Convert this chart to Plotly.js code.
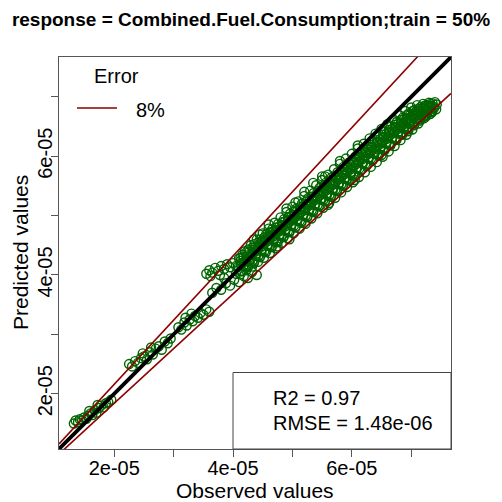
<!DOCTYPE html>
<html>
<head>
<meta charset="utf-8">
<script src="https://cdn.plot.ly/plotly-3.0.1.min.js"></script>
<style>html,body{margin:0;padding:0;background:#fff;}#chart{width:502px;height:502px;}</style>
</head>
<body>
<div id="chart"></div>
<script>
// ---- data ----
const observed = [
  1.32e-5,1.35e-5,1.39e-5,1.42e-5,1.46e-5,1.49e-5,1.53e-5,1.56e-5,1.60e-5,1.63e-5,1.67e-5,1.70e-5,1.74e-5,1.78e-5,1.82e-5,1.86e-5,1.90e-5,1.95e-5,1.72e-5,1.58e-5,
  2.25e-5,2.30e-5,2.35e-5,2.40e-5,2.45e-5,2.50e-5,2.55e-5,2.60e-5,2.65e-5,2.70e-5,2.75e-5,2.80e-5,2.85e-5,2.90e-5,2.95e-5,2.62e-5,2.48e-5,
  3.08e-5,3.13e-5,3.18e-5,3.22e-5,3.27e-5,3.32e-5,3.36e-5,3.41e-5,3.45e-5,3.50e-5,3.55e-5,3.60e-5,3.30e-5,3.20e-5,
  3.65e-5,3.72e-5,3.80e-5,3.88e-5,3.95e-5,4.02e-5,4.10e-5,4.18e-5,4.25e-5,4.32e-5,4.40e-5,3.85e-5,4.05e-5,
  3.55e-5,3.60e-5,3.65e-5,3.70e-5,3.75e-5,3.80e-5,3.85e-5,3.90e-5,3.95e-5,4.00e-5,4.05e-5,3.62e-5,3.78e-5,
  4.10e-5,4.13e-5,4.08e-5,4.15e-5,4.12e-5,
  4.20e-5,4.23e-5,4.18e-5,4.25e-5,4.22e-5,
  4.30e-5,4.33e-5,4.28e-5,4.35e-5,4.32e-5,
  4.40e-5,4.43e-5,4.38e-5,4.45e-5,4.42e-5,
  4.50e-5,4.53e-5,4.48e-5,4.55e-5,4.52e-5,
  4.60e-5,4.63e-5,4.58e-5,4.65e-5,4.62e-5,
  4.70e-5,4.73e-5,4.68e-5,4.75e-5,4.72e-5,
  4.80e-5,4.83e-5,4.78e-5,4.85e-5,4.82e-5,
  4.90e-5,4.93e-5,4.88e-5,4.95e-5,4.92e-5,
  5.00e-5,5.03e-5,4.98e-5,5.05e-5,5.02e-5,
  5.10e-5,5.13e-5,5.08e-5,5.15e-5,5.12e-5,
  5.20e-5,5.23e-5,5.18e-5,5.25e-5,5.22e-5,
  5.30e-5,5.33e-5,5.28e-5,5.35e-5,5.32e-5,
  5.40e-5,5.43e-5,5.38e-5,5.45e-5,5.42e-5,
  5.50e-5,5.53e-5,5.48e-5,5.55e-5,5.52e-5,
  5.60e-5,5.63e-5,5.58e-5,5.65e-5,5.62e-5,
  5.70e-5,5.73e-5,5.68e-5,5.75e-5,5.72e-5,
  5.80e-5,5.83e-5,5.78e-5,5.85e-5,5.82e-5,
  5.90e-5,5.93e-5,5.88e-5,5.95e-5,5.92e-5,
  6.00e-5,6.03e-5,5.98e-5,6.05e-5,6.02e-5,
  6.10e-5,6.13e-5,6.08e-5,6.15e-5,6.12e-5,
  6.20e-5,6.23e-5,6.18e-5,6.25e-5,6.22e-5,
  6.30e-5,6.33e-5,6.28e-5,6.35e-5,6.32e-5,
  6.40e-5,6.43e-5,6.38e-5,6.45e-5,6.42e-5,
  6.50e-5,6.53e-5,6.48e-5,6.55e-5,6.52e-5,
  6.60e-5,6.63e-5,6.58e-5,6.65e-5,6.62e-5,
  6.70e-5,6.73e-5,6.68e-5,6.75e-5,6.72e-5,
  6.80e-5,6.83e-5,6.78e-5,6.85e-5,6.82e-5,
  6.90e-5,6.93e-5,6.88e-5,6.95e-5,6.92e-5,
  7.00e-5,7.03e-5,6.98e-5,7.05e-5,7.02e-5,
  7.10e-5,7.13e-5,7.08e-5,7.15e-5,7.12e-5,
  7.20e-5,7.23e-5,7.18e-5,7.25e-5,7.22e-5,
  7.30e-5,7.33e-5,7.28e-5,7.35e-5,7.32e-5,
  7.40e-5,7.43e-5,7.38e-5,7.42e-5,
  4.16e-5,4.13e-5,4.18e-5,4.15e-5,
  4.26e-5,4.23e-5,4.28e-5,4.25e-5,
  4.36e-5,4.33e-5,4.38e-5,4.35e-5,
  4.46e-5,4.43e-5,4.48e-5,4.45e-5,
  4.56e-5,4.53e-5,4.58e-5,4.55e-5,
  4.66e-5,4.63e-5,4.68e-5,4.65e-5,
  4.76e-5,4.73e-5,4.78e-5,4.75e-5,
  4.86e-5,4.83e-5,4.88e-5,4.85e-5,
  4.96e-5,4.93e-5,4.98e-5,4.95e-5,
  5.06e-5,5.03e-5,5.08e-5,5.05e-5,
  5.16e-5,5.13e-5,5.18e-5,5.15e-5,
  5.26e-5,5.23e-5,5.28e-5,5.25e-5,
  5.36e-5,5.33e-5,5.38e-5,5.35e-5,
  5.46e-5,5.43e-5,5.48e-5,5.45e-5,
  5.56e-5,5.53e-5,5.58e-5,5.55e-5,
  5.66e-5,5.63e-5,5.68e-5,5.65e-5,
  5.76e-5,5.73e-5,5.78e-5,5.75e-5,
  5.86e-5,5.83e-5,5.88e-5,5.85e-5,
  5.96e-5,5.93e-5,5.98e-5,5.95e-5,
  6.06e-5,6.03e-5,6.08e-5,6.05e-5,
  6.16e-5,6.13e-5,6.18e-5,6.15e-5,
  6.26e-5,6.23e-5,6.28e-5,6.25e-5,
  6.36e-5,6.33e-5,6.38e-5,6.35e-5,
  6.46e-5,6.43e-5,6.48e-5,6.45e-5,
  6.56e-5,6.53e-5,6.58e-5,6.55e-5,
  6.66e-5,6.63e-5,6.68e-5,6.65e-5,
  6.76e-5,6.73e-5,6.78e-5,6.75e-5,
  6.86e-5,6.83e-5,6.88e-5,6.85e-5,
  6.96e-5,6.93e-5,6.98e-5,6.95e-5,
  7.06e-5,7.03e-5,7.08e-5,7.05e-5,
  7.16e-5,7.13e-5,7.18e-5,7.15e-5,
  7.26e-5,7.23e-5,7.28e-5,7.25e-5,
  7.36e-5,7.33e-5,7.38e-5,7.35e-5,
  4.45e-5,5.05e-5,5.55e-5,5.60e-5,6.05e-5,6.50e-5,6.95e-5,7.20e-5,4.75e-5,4.95e-5,
  4.60e-5,4.90e-5,5.20e-5,5.50e-5,5.80e-5,6.10e-5,4.35e-5,5.35e-5,
  4.125e-5,4.125e-5,4.125e-5, 4.225e-5,4.225e-5,4.225e-5, 4.325e-5,4.325e-5,4.325e-5, 4.425e-5,4.425e-5,4.425e-5,
  4.525e-5,4.525e-5,4.525e-5, 4.625e-5,4.625e-5,4.625e-5, 4.725e-5,4.725e-5,4.725e-5, 4.825e-5,4.825e-5,4.825e-5,
  4.925e-5,4.925e-5,4.925e-5, 5.025e-5,5.025e-5,5.025e-5, 5.125e-5,5.125e-5,5.125e-5, 5.225e-5,5.225e-5,5.225e-5,
  5.325e-5,5.325e-5,5.325e-5, 5.425e-5,5.425e-5,5.425e-5, 5.525e-5,5.525e-5,5.525e-5, 5.625e-5,5.625e-5,5.625e-5,
  5.725e-5,5.725e-5,5.725e-5, 5.825e-5,5.825e-5,5.825e-5, 5.925e-5,5.925e-5,5.925e-5, 6.025e-5,6.025e-5,6.025e-5,
  6.125e-5,6.125e-5,6.125e-5, 6.225e-5,6.225e-5,6.225e-5, 6.325e-5,6.325e-5,6.325e-5, 6.425e-5,6.425e-5,6.425e-5,
  6.525e-5,6.525e-5,6.525e-5, 6.625e-5,6.625e-5,6.625e-5, 6.725e-5,6.725e-5,6.725e-5, 6.825e-5,6.825e-5,6.825e-5,
  6.925e-5,6.925e-5,6.925e-5, 7.025e-5,7.025e-5,7.025e-5, 7.125e-5,7.125e-5,7.125e-5, 7.225e-5,7.225e-5,7.225e-5,
  7.325e-5,7.325e-5,7.325e-5,
  4.175e-5,4.175e-5, 4.275e-5,4.275e-5, 4.375e-5,4.375e-5, 4.475e-5,4.475e-5, 4.575e-5,4.575e-5, 4.675e-5,4.675e-5,
  4.775e-5,4.775e-5, 4.875e-5,4.875e-5, 4.975e-5,4.975e-5, 5.075e-5,5.075e-5, 5.175e-5,5.175e-5, 5.275e-5,5.275e-5,
  5.375e-5,5.375e-5, 5.475e-5,5.475e-5, 5.575e-5,5.575e-5, 5.675e-5,5.675e-5, 5.775e-5,5.775e-5, 5.875e-5,5.875e-5,
  5.975e-5,5.975e-5, 6.075e-5,6.075e-5, 6.175e-5,6.175e-5, 6.275e-5,6.275e-5, 6.375e-5,6.375e-5, 6.475e-5,6.475e-5,
  6.575e-5,6.575e-5, 6.675e-5,6.675e-5, 6.775e-5,6.775e-5, 6.875e-5,6.875e-5, 6.975e-5,6.975e-5, 7.075e-5,7.075e-5,
  7.175e-5,7.175e-5, 7.275e-5,7.275e-5
];
const predicted = [
  1.50e-5,1.55e-5,1.52e-5,1.57e-5,1.55e-5,1.60e-5,1.58e-5,1.63e-5,1.67e-5,1.64e-5,1.72e-5,1.68e-5,1.76e-5,1.80e-5,1.77e-5,1.84e-5,1.86e-5,1.90e-5,1.81e-5,1.71e-5,
  2.50e-5,2.46e-5,2.55e-5,2.52e-5,2.60e-5,2.63e-5,2.58e-5,2.70e-5,2.66e-5,2.76e-5,2.80e-5,2.74e-5,2.88e-5,2.85e-5,2.93e-5,2.78e-5,2.68e-5,
  3.12e-5,3.08e-5,3.20e-5,3.15e-5,3.25e-5,3.22e-5,3.31e-5,3.28e-5,3.36e-5,3.33e-5,3.42e-5,3.38e-5,3.35e-5,3.28e-5,
  3.70e-5,3.78e-5,3.75e-5,3.86e-5,3.82e-5,3.92e-5,3.88e-5,3.98e-5,3.95e-5,4.05e-5,4.00e-5,3.95e-5,4.02e-5,
  4.02e-5,4.08e-5,4.04e-5,4.12e-5,4.07e-5,4.15e-5,4.10e-5,4.18e-5,4.13e-5,4.20e-5,4.15e-5,3.98e-5,4.00e-5,
  4.28e-5,4.20e-5,4.14e-5,4.06e-5,4.01e-5,
  4.40e-5,4.30e-5,4.22e-5,4.14e-5,4.08e-5,
  4.50e-5,4.38e-5,4.30e-5,4.20e-5,4.14e-5,
  4.60e-5,4.47e-5,4.40e-5,4.30e-5,4.22e-5,
  4.70e-5,4.57e-5,4.48e-5,4.38e-5,4.29e-5,
  4.78e-5,4.66e-5,4.57e-5,4.47e-5,4.37e-5,
  4.88e-5,4.74e-5,4.65e-5,4.55e-5,4.45e-5,
  4.97e-5,4.83e-5,4.74e-5,4.64e-5,4.54e-5,
  5.06e-5,4.92e-5,4.82e-5,4.72e-5,4.62e-5,
  5.15e-5,5.01e-5,4.91e-5,4.80e-5,4.70e-5,
  5.24e-5,5.10e-5,4.99e-5,4.88e-5,4.78e-5,
  5.33e-5,5.19e-5,5.08e-5,4.97e-5,4.86e-5,
  5.42e-5,5.28e-5,5.17e-5,5.06e-5,4.95e-5,
  5.51e-5,5.37e-5,5.26e-5,5.15e-5,5.04e-5,
  5.60e-5,5.46e-5,5.35e-5,5.24e-5,5.13e-5,
  5.69e-5,5.54e-5,5.43e-5,5.32e-5,5.21e-5,
  5.78e-5,5.63e-5,5.52e-5,5.41e-5,5.30e-5,
  5.87e-5,5.72e-5,5.61e-5,5.50e-5,5.39e-5,
  5.96e-5,5.81e-5,5.70e-5,5.59e-5,5.48e-5,
  6.04e-5,5.89e-5,5.78e-5,5.67e-5,5.56e-5,
  6.13e-5,5.98e-5,5.87e-5,5.76e-5,5.65e-5,
  6.21e-5,6.06e-5,5.95e-5,5.84e-5,5.73e-5,
  6.30e-5,6.15e-5,6.04e-5,5.93e-5,5.82e-5,
  6.38e-5,6.23e-5,6.12e-5,6.01e-5,5.90e-5,
  6.46e-5,6.32e-5,6.21e-5,6.10e-5,5.99e-5,
  6.54e-5,6.40e-5,6.29e-5,6.18e-5,6.08e-5,
  6.62e-5,6.49e-5,6.38e-5,6.27e-5,6.17e-5,
  6.69e-5,6.57e-5,6.46e-5,6.36e-5,6.27e-5,
  6.76e-5,6.64e-5,6.54e-5,6.45e-5,6.36e-5,
  6.82e-5,6.71e-5,6.61e-5,6.52e-5,6.45e-5,
  6.86e-5,6.77e-5,6.68e-5,6.60e-5,6.55e-5,
  6.88e-5,6.81e-5,6.73e-5,6.67e-5,6.64e-5,
  6.90e-5,6.84e-5,6.78e-5,6.74e-5,6.71e-5,
  6.91e-5,6.87e-5,6.83e-5,6.79e-5,
  4.34e-5,4.24e-5,4.15e-5,4.07e-5,
  4.43e-5,4.33e-5,4.23e-5,4.13e-5,
  4.52e-5,4.42e-5,4.32e-5,4.22e-5,
  4.60e-5,4.50e-5,4.40e-5,4.30e-5,
  4.69e-5,4.59e-5,4.49e-5,4.39e-5,
  4.77e-5,4.67e-5,4.57e-5,4.47e-5,
  4.86e-5,4.76e-5,4.66e-5,4.56e-5,
  4.94e-5,4.84e-5,4.74e-5,4.64e-5,
  5.03e-5,4.93e-5,4.83e-5,4.73e-5,
  5.11e-5,5.01e-5,4.91e-5,4.81e-5,
  5.20e-5,5.10e-5,5.00e-5,4.90e-5,
  5.29e-5,5.19e-5,5.09e-5,4.99e-5,
  5.38e-5,5.28e-5,5.18e-5,5.08e-5,
  5.47e-5,5.37e-5,5.27e-5,5.17e-5,
  5.55e-5,5.45e-5,5.35e-5,5.25e-5,
  5.64e-5,5.54e-5,5.44e-5,5.34e-5,
  5.73e-5,5.63e-5,5.53e-5,5.43e-5,
  5.82e-5,5.72e-5,5.62e-5,5.52e-5,
  5.90e-5,5.80e-5,5.70e-5,5.60e-5,
  5.99e-5,5.89e-5,5.79e-5,5.69e-5,
  6.07e-5,5.97e-5,5.87e-5,5.77e-5,
  6.16e-5,6.06e-5,5.96e-5,5.86e-5,
  6.24e-5,6.14e-5,6.04e-5,5.94e-5,
  6.33e-5,6.23e-5,6.13e-5,6.03e-5,
  6.41e-5,6.31e-5,6.21e-5,6.11e-5,
  6.50e-5,6.40e-5,6.30e-5,6.20e-5,
  6.58e-5,6.48e-5,6.38e-5,6.29e-5,
  6.65e-5,6.56e-5,6.46e-5,6.38e-5,
  6.72e-5,6.63e-5,6.54e-5,6.47e-5,
  6.78e-5,6.70e-5,6.62e-5,6.56e-5,
  6.83e-5,6.76e-5,6.69e-5,6.63e-5,
  6.86e-5,6.80e-5,6.75e-5,6.70e-5,
  6.89e-5,6.85e-5,6.80e-5,6.76e-5,
  4.68e-5,5.22e-5,5.66e-5,5.18e-5,5.60e-5,6.02e-5,6.42e-5,6.66e-5,4.48e-5,4.60e-5,
  4.85e-5,5.12e-5,5.40e-5,5.66e-5,5.92e-5,6.18e-5,4.60e-5,5.55e-5,
  4.29e-5,4.18e-5,4.06e-5, 4.38e-5,4.27e-5,4.15e-5, 4.46e-5,4.35e-5,4.23e-5, 4.55e-5,4.44e-5,4.32e-5,
  4.63e-5,4.52e-5,4.40e-5, 4.72e-5,4.61e-5,4.49e-5, 4.80e-5,4.69e-5,4.57e-5, 4.89e-5,4.78e-5,4.66e-5,
  4.97e-5,4.86e-5,4.74e-5, 5.06e-5,4.95e-5,4.83e-5, 5.14e-5,5.03e-5,4.91e-5, 5.23e-5,5.12e-5,5.00e-5,
  5.32e-5,5.21e-5,5.09e-5, 5.41e-5,5.30e-5,5.18e-5, 5.50e-5,5.39e-5,5.27e-5, 5.58e-5,5.47e-5,5.35e-5,
  5.67e-5,5.56e-5,5.44e-5, 5.76e-5,5.65e-5,5.53e-5, 5.85e-5,5.74e-5,5.62e-5, 5.93e-5,5.82e-5,5.70e-5,
  6.02e-5,5.91e-5,5.79e-5, 6.10e-5,5.99e-5,5.87e-5, 6.19e-5,6.08e-5,5.96e-5, 6.27e-5,6.16e-5,6.04e-5,
  6.36e-5,6.25e-5,6.13e-5, 6.44e-5,6.33e-5,6.21e-5, 6.53e-5,6.42e-5,6.30e-5, 6.61e-5,6.50e-5,6.38e-5,
  6.69e-5,6.58e-5,6.46e-5, 6.76e-5,6.65e-5,6.53e-5, 6.80e-5,6.72e-5,6.62e-5, 6.85e-5,6.77e-5,6.68e-5,
  6.88e-5,6.82e-5,6.75e-5,
  4.30e-5,4.16e-5, 4.39e-5,4.25e-5, 4.47e-5,4.33e-5, 4.56e-5,4.42e-5, 4.64e-5,4.50e-5, 4.73e-5,4.59e-5,
  4.81e-5,4.67e-5, 4.90e-5,4.76e-5, 4.98e-5,4.84e-5, 5.07e-5,4.93e-5, 5.15e-5,5.01e-5, 5.24e-5,5.10e-5,
  5.33e-5,5.19e-5, 5.42e-5,5.28e-5, 5.51e-5,5.37e-5, 5.59e-5,5.45e-5, 5.68e-5,5.54e-5, 5.77e-5,5.63e-5,
  5.86e-5,5.72e-5, 5.94e-5,5.80e-5, 6.03e-5,5.89e-5, 6.11e-5,5.97e-5, 6.20e-5,6.06e-5, 6.28e-5,6.14e-5,
  6.37e-5,6.23e-5, 6.45e-5,6.31e-5, 6.54e-5,6.40e-5, 6.62e-5,6.48e-5, 6.69e-5,6.56e-5, 6.75e-5,6.63e-5,
  6.80e-5,6.70e-5, 6.84e-5,6.75e-5
];
const errorPct = 0.08;
const axisRange = [1.07e-5, 7.67e-5];
const tickValues = [1e-5, 2e-5, 3e-5, 4e-5, 5e-5, 6e-5, 7e-5];
const tickLabels = ['', '2e-05', '', '4e-05', '', '6e-05', ''];
const titleText = 'response = Combined.Fuel.Consumption;train = 50%';
const xTitle = 'Observed values';
const yTitle = 'Predicted values';
const statLines = ['R2 = 0.97', 'RMSE = 1.48e-06'];
const legendTitle = 'Error';
const legendLabel = '8%';

// ---- layout helpers (pixel -> paper) ----
const W = 502, H = 502;
const M = {l: 59, r: 51, t: 57, b: 53};
const pw = W - M.l - M.r, ph = H - M.t - M.b;
const px = v => (v - M.l) / pw;
const py = v => (H - M.b - v) / ph;
const font = 'Liberation Sans, Arial, Helvetica, sans-serif';

const traces = [
  {
    x: observed, y: predicted, type: 'scatter', mode: 'markers',
    marker: {symbol: 'circle-open', size: 9, color: '#006400', line: {width: 1.4, color: '#0b660b'}},
    hoverinfo: 'skip'
  },
  {
    x: axisRange, y: axisRange.map(v => v * (1 + errorPct)), type: 'scatter', mode: 'lines',
    line: {color: '#8B0000', width: 1.6}, hoverinfo: 'skip'
  },
  {
    x: axisRange, y: axisRange.map(v => v * (1 - errorPct)), type: 'scatter', mode: 'lines',
    line: {color: '#8B0000', width: 1.6}, hoverinfo: 'skip'
  },
  {
    x: axisRange, y: axisRange, type: 'scatter', mode: 'lines',
    line: {color: '#000000', width: 3.8}, hoverinfo: 'skip'
  }
];

const axisCommon = {
  range: axisRange, tickmode: 'array', tickvals: tickValues, ticktext: tickLabels,
  ticks: 'outside', ticklen: 7, tickwidth: 1, tickcolor: '#555',
  showgrid: false, zeroline: false, showline: true, linecolor: '#555', linewidth: 1, mirror: true,
  tickfont: {family: font, size: 20, color: '#000'}
};

const annFont = {family: font, size: 20, color: '#000'};
const layout = {
  width: W, height: H,
  margin: M,
  paper_bgcolor: '#fff', plot_bgcolor: '#fff',
  showlegend: false,
  title: {text: '<b>' + titleText + '</b>', x: 0.5, xanchor: 'center', y: 1 - 19 / H, yanchor: 'middle',
          font: {family: font, size: 19, color: '#000'}},
  xaxis: Object.assign({}, axisCommon, {ticklabelstandoff: -6}),
  yaxis: Object.assign({}, axisCommon, {tickangle: -90, ticklabelstandoff: -9}),
  shapes: [
    {type: 'rect', xref: 'paper', yref: 'paper', x0: px(233), x1: 1, y0: 0, y1: py(372.5),
     line: {color: '#444', width: 1}, fillcolor: 'rgba(0,0,0,0)'},
    {type: 'line', xref: 'paper', yref: 'paper', x0: px(77), x1: px(117), y0: py(108), y1: py(108),
     line: {color: '#8B0000', width: 1.6}}
  ],
  annotations: [
    {text: xTitle, xref: 'paper', yref: 'paper', x: px(255), y: py(490), xanchor: 'center', yanchor: 'middle',
     showarrow: false, font: {family: font, size: 21, color: '#000'}},
    {text: yTitle, xref: 'paper', yref: 'paper', x: px(20), y: py(253), xanchor: 'center', yanchor: 'middle',
     textangle: -90, showarrow: false, font: {family: font, size: 21, color: '#000'}},
    {text: legendTitle, xref: 'paper', yref: 'paper', x: px(92), y: py(76), xanchor: 'left', yanchor: 'middle',
     showarrow: false, font: annFont},
    {text: legendLabel, xref: 'paper', yref: 'paper', x: px(134), y: py(110), xanchor: 'left', yanchor: 'middle',
     showarrow: false, font: annFont},
    {text: statLines[0], xref: 'paper', yref: 'paper', x: px(271), y: py(398), xanchor: 'left', yanchor: 'middle',
     showarrow: false, font: annFont},
    {text: statLines[1], xref: 'paper', yref: 'paper', x: px(271), y: py(423), xanchor: 'left', yanchor: 'middle',
     showarrow: false, font: annFont}
  ]
};

Plotly.newPlot('chart', traces, layout, {staticPlot: true, displayModeBar: false});
</script>
</body>
</html>
